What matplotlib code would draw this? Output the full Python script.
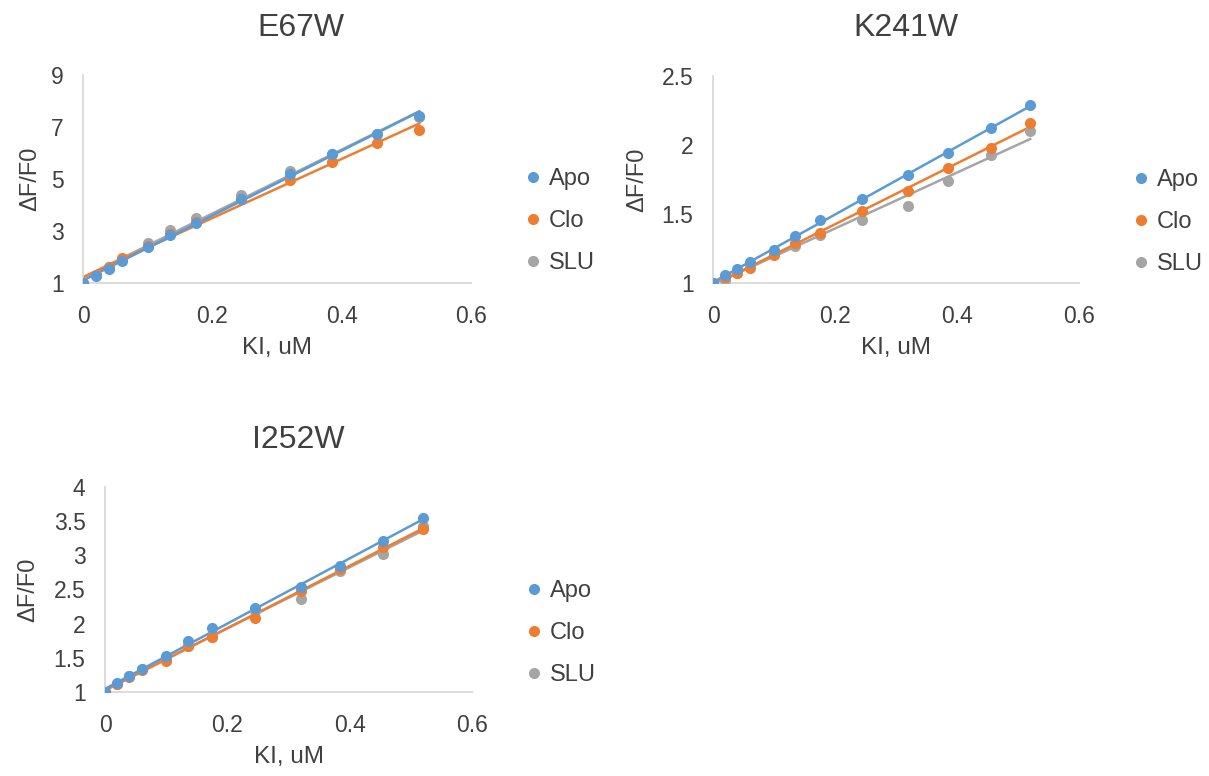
import numpy as np
import matplotlib
matplotlib.use("Agg")
import matplotlib.pyplot as plt
from matplotlib.ticker import FixedLocator, MultipleLocator, FuncFormatter

plt.rcParams['font.family'] = ['Liberation Sans', 'DejaVu Sans']

# ---- data ----
ki = [0, 0.02, 0.04, 0.06, 0.1, 0.135, 0.175, 0.245, 0.32, 0.385, 0.455, 0.52]
series_names = ["Apo", "Clo", "SLU"]
colors = ["#5B9BD5", "#ED7D31", "#A5A5A5"]

e67w_apo = [1, 1.28, 1.55, 1.85, 2.4, 2.85, 3.3, 4.25, 5.2, 5.95, 6.75, 7.44]
e67w_clo = [1, 1.3, 1.6, 1.95, 2.43, 2.9, 3.34, 4.22, 4.97, 5.65, 6.37, 6.87]
e67w_slu = [1, 1.32, 1.62, 1.92, 2.55, 3.05, 3.5, 4.4, 5.3, 5.95, 6.72, 7.4]

k241w_apo = [1, 1.06, 1.10, 1.15, 1.24, 1.34, 1.46, 1.61, 1.78, 1.94, 2.12, 2.29]
k241w_clo = [1, 1.04, 1.07, 1.11, 1.20, 1.29, 1.36, 1.52, 1.67, 1.83, 1.98, 2.16]
k241w_slu = [1, 1.02, 1.07, 1.14, 1.21, 1.27, 1.35, 1.46, 1.56, 1.74, 1.93, 2.10]

i252w_apo = [1, 1.13, 1.23, 1.33, 1.53, 1.75, 1.93, 2.23, 2.54, 2.84, 3.21, 3.55]
i252w_clo = [1, 1.12, 1.22, 1.32, 1.46, 1.67, 1.80, 2.09, 2.48, 2.80, 3.12, 3.38]
i252w_slu = [1, 1.12, 1.23, 1.33, 1.49, 1.68, 1.80, 2.19, 2.36, 2.77, 3.02, 3.43]

W, H = 1209, 776
fig = plt.figure(figsize=(W / 100, H / 100), dpi=100)
text_col = "#404040"


def px_axes(left, top, right, bottom):
    return fig.add_axes([left / W, 1 - bottom / H, (right - left) / W, (bottom - top) / H])


def fig_text(x, y, s, **kw):
    fig.text(x / W, 1 - y / H, s, color=text_col, ha="center", va="center", **kw)


panels = [
    # title, series, y max, y step, axes box (l, t, r, b), title pos, ylabel x, xlabel y
    ("E67W", [e67w_apo, e67w_clo, e67w_slu], 9, 2, (83, 75, 471, 283), (301, 28), 30, 348),
    ("K241W", [k241w_apo, k241w_clo, k241w_slu], 2.5, 0.5, (713, 76, 1079, 283), (906, 28), 637, 348),
    ("I252W", [i252w_apo, i252w_clo, i252w_slu], 4, 0.5, (105, 487, 472, 692), (298, 440), 28, 757),
]
line_z = [2.3, 2.2, 2.1]
mark_z = [3.3, 3.2, 3.1]

fmt = FuncFormatter(lambda v, p: f"{v:g}")

for title, data, ymax, ystep, box, tpos, ylx, xly in panels:
    ax = px_axes(*box)
    xs = np.array(ki)
    for name, ys, c, lz, mz in zip(series_names, data, colors, line_z, mark_z):
        ys = np.array(ys, dtype=float)
        # linear trendline, as in the spreadsheet
        k, b = np.polyfit(xs, ys, 1)
        xx = np.array([xs.min(), xs.max()])
        ax.plot(xx, k * xx + b, color=c, lw=1.8, zorder=lz)
        ax.plot(xs, ys, "o", color=c, ms=8, mec="none", label=name, zorder=mz)

    ax.set_xlim(0, 0.6)
    ax.set_ylim(1, ymax)
    ax.xaxis.set_major_locator(MultipleLocator(0.2))
    ax.yaxis.set_major_locator(FixedLocator(np.arange(1, ymax + 1e-9, ystep)))
    ax.xaxis.set_major_formatter(fmt)
    ax.yaxis.set_major_formatter(fmt)
    ax.tick_params(length=0, labelsize=16.5, colors=text_col)
    ax.tick_params(axis="x", pad=16)
    ax.tick_params(axis="y", pad=14)
    for s in ["top", "right"]:
        ax.spines[s].set_visible(False)
    for s in ["left", "bottom"]:
        ax.spines[s].set_color("#D9D9D9")
        ax.spines[s].set_linewidth(1.3)
    for lbl in ax.get_xticklabels() + ax.get_yticklabels():
        lbl.set_clip_on(False)
    ax.patch.set_alpha(0)

    l, t, r, bt = box
    fig_text(tpos[0], tpos[1], title, fontsize=23)
    fig_text(ylx, (t + bt) / 2, "\u0394F/F0", fontsize=17, rotation=90)
    fig_text((l + r) / 2, xly, "KI, uM", fontsize=17.5)

    leg = ax.legend(loc="center left", frameon=False, fontsize=17, handletextpad=0.25,
                    labelspacing=0.85, handlelength=0.8, borderaxespad=0, borderpad=0)
    for txt in leg.get_texts():
        txt.set_color(text_col)
    leg.set_bbox_to_anchor(((r + 53) / W, 1 - (t + 146) / H), transform=fig.transFigure)

fig.savefig("out.png", dpi=100)
